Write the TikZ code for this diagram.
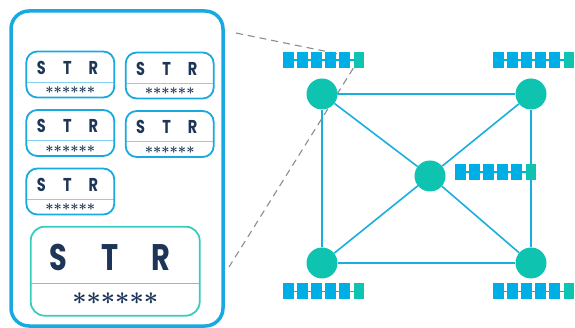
\documentclass[tikz,border=0pt]{standalone}
\usepackage{fontspec}
\newfontfamily\strfont[FakeStretch=0.78]{Poppins}
\usepackage{tikz}
\usetikzlibrary{calc}
\pgfdeclarelayer{edgelayer}
\pgfdeclarelayer{nodelayer}
\pgfsetlayers{edgelayer,nodelayer,main}
\definecolor{PanelBlue}{RGB}{25,169,225}
\definecolor{CellBlue}{RGB}{0,174,230}
\definecolor{LineBlue}{RGB}{26,174,224}
\definecolor{NodeTeal}{RGB}{14,196,176}
\definecolor{BoxTeal}{RGB}{54,205,191}
\definecolor{RuleBlue}{RGB}{130,210,240}
\definecolor{RuleTeal}{RGB}{90,214,200}
\definecolor{Navy}{RGB}{29,53,87}
\definecolor{DashGray}{RGB}{140,140,140}
\tikzstyle{panel}=[draw=PanelBlue,line width=3.5pt,rounded corners=18pt,minimum width=212pt,minimum height=315pt]
\tikzstyle{strbox}=[draw=PanelBlue,line width=1.8pt,rounded corners=11pt,minimum width=88pt,minimum height=46pt]
\tikzstyle{bigbox}=[draw=BoxTeal,line width=1.8pt,rounded corners=14pt,minimum width=169pt,minimum height=89pt]
\tikzstyle{divider}=[draw=RuleBlue,line width=0.9pt]
\tikzstyle{bigdivider}=[draw=RuleTeal,line width=1pt]
\tikzstyle{strtext}=[text=Navy,inner sep=0pt,font=\strfont\bfseries\fontsize{18.6}{20}\selectfont]
\tikzstyle{bigstrtext}=[text=Navy,inner sep=0pt,font=\strfont\bfseries\fontsize{37}{38}\selectfont]
\tikzstyle{starstext}=[text=Navy,inner sep=0pt,font=\fontsize{14.5}{15}\selectfont]
\tikzstyle{bigstarstext}=[text=Navy,inner sep=0pt,font=\fontsize{29.5}{30}\selectfont]
\tikzstyle{vertex}=[circle,fill=NodeTeal,minimum size=31pt,inner sep=0pt]
\tikzstyle{edge}=[draw=LineBlue,line width=1.6pt]
\tikzstyle{cell}=[fill=CellBlue,minimum width=11pt,minimum height=16pt,inner sep=0pt]
\tikzstyle{lastcell}=[fill=NodeTeal,minimum width=10pt,minimum height=16pt,inner sep=0pt]
\tikzstyle{link}=[draw=CellBlue,line width=1.2pt]
\tikzstyle{zoomline}=[draw=DashGray,line width=1.1pt,dash pattern=on 7pt off 5pt]
\newcommand{\strsmall}{\makebox[26pt]{S}\makebox[26pt]{T}\makebox[26pt]{R}}
\newcommand{\strbig}{\makebox[51pt]{S}\makebox[51pt]{T}\makebox[51pt]{R}}
\newcommand{\sixstars}{{\boldmath$\mathord{\ast}\mathord{\ast}\mathord{\ast}\mathord{\ast}\mathord{\ast}\mathord{\ast}$}}
\begin{document}
\begin{tikzpicture}[x=1pt,y=-1pt]
	\useasboundingbox (0,0) rectangle (575,328);
	\begin{pgfonlayer}{nodelayer}
		\node [style=panel] (0) at (117, 168.5) {};
		% small boxes
		\node [style=strbox] (1) at (70.3, 74.5) {};
		\node [style=strbox] (2) at (169.7, 75.5) {};
		\node [style=strbox] (3) at (70.3, 133) {};
		\node [style=strbox] (4) at (169.7, 134) {};
		\node [style=strbox] (5) at (70.3, 191.5) {};
		\node [style=bigbox] (6) at (115.2, 271.2) {};
		\node [style=strtext] (1s) at (67.3, 67.5) {\strsmall};
		\node [style=strtext] (2s) at (166.7, 68.5) {\strsmall};
		\node [style=strtext] (3s) at (67.3, 126) {\strsmall};
		\node [style=strtext] (4s) at (166.7, 127) {\strsmall};
		\node [style=strtext] (5s) at (67.3, 184.5) {\strsmall};
		\node [style=bigstrtext] (6s) at (109.7, 257.7) {\strbig};
		\node [style=starstext] (1p) at (70.3, 90.2) {\sixstars};
		\node [style=starstext] (2p) at (169.7, 91.2) {\sixstars};
		\node [style=starstext] (3p) at (70.3, 148.7) {\sixstars};
		\node [style=starstext] (4p) at (169.7, 149.7) {\sixstars};
		\node [style=starstext] (5p) at (70.3, 207.2) {\sixstars};
		\node [style=bigstarstext] (6p) at (115.2, 299) {\sixstars};
		% graph
		\node [style=vertex] (7) at (322, 94) {};
		\node [style=vertex] (8) at (531, 94) {};
		\node [style=vertex] (9) at (430, 176) {};
		\node [style=vertex] (10) at (322, 263) {};
		\node [style=vertex] (11) at (531, 263) {};
		% bars
		\foreach \bx/\by/\bn in {288.5/60/a, 498.5/60/b, 460.5/172/c, 288.5/291.5/d, 498.5/291.5/e} {
			\foreach \i in {0,...,4}
				\node [style=cell] (\bn\i) at (\bx+14*\i, \by) {};
			\node [style=lastcell] (\bn5) at (\bx+70, \by) {};
		}
	\end{pgfonlayer}
	\begin{pgfonlayer}{edgelayer}
		\coordinate (1l) at (26.3, 82.2);
		\coordinate (1r) at (114.3, 82.2);
		\coordinate (2l) at (125.7, 83.2);
		\coordinate (2r) at (213.7, 83.2);
		\coordinate (3l) at (26.3, 140.7);
		\coordinate (3r) at (114.3, 140.7);
		\coordinate (4l) at (125.7, 141.7);
		\coordinate (4r) at (213.7, 141.7);
		\coordinate (5l) at (26.3, 199.2);
		\coordinate (5r) at (114.3, 199.2);
		\coordinate (6l) at (30.7, 283.3);
		\coordinate (6r) at (199.7, 283.3);
		\draw [style=divider] (1l) to (1r);
		\draw [style=divider] (2l) to (2r);
		\draw [style=divider] (3l) to (3r);
		\draw [style=divider] (4l) to (4r);
		\draw [style=divider] (5l) to (5r);
		\draw [style=bigdivider] (6l) to (6r);
		\draw [style=edge] (7) to (8);
		\draw [style=edge] (8) to (11);
		\draw [style=edge] (11) to (10);
		\draw [style=edge] (10) to (7);
		\draw [style=edge] (7) to (9);
		\draw [style=edge] (9) to (11);
		\draw [style=edge] (8) to (9);
		\draw [style=edge] (9) to (10);
		\foreach \bn in {a,b,c,d,e}
			\draw [style=link] (\bn0.center) to (\bn5.center);
		\coordinate (12) at (236, 33);
		\coordinate (13) at (229, 267);
		\coordinate (14) at (353.5, 57);
		\draw [style=zoomline] (12) to (14);
		\draw [style=zoomline] (a5.south west) to (13);
	\end{pgfonlayer}
\end{tikzpicture}
\end{document}
